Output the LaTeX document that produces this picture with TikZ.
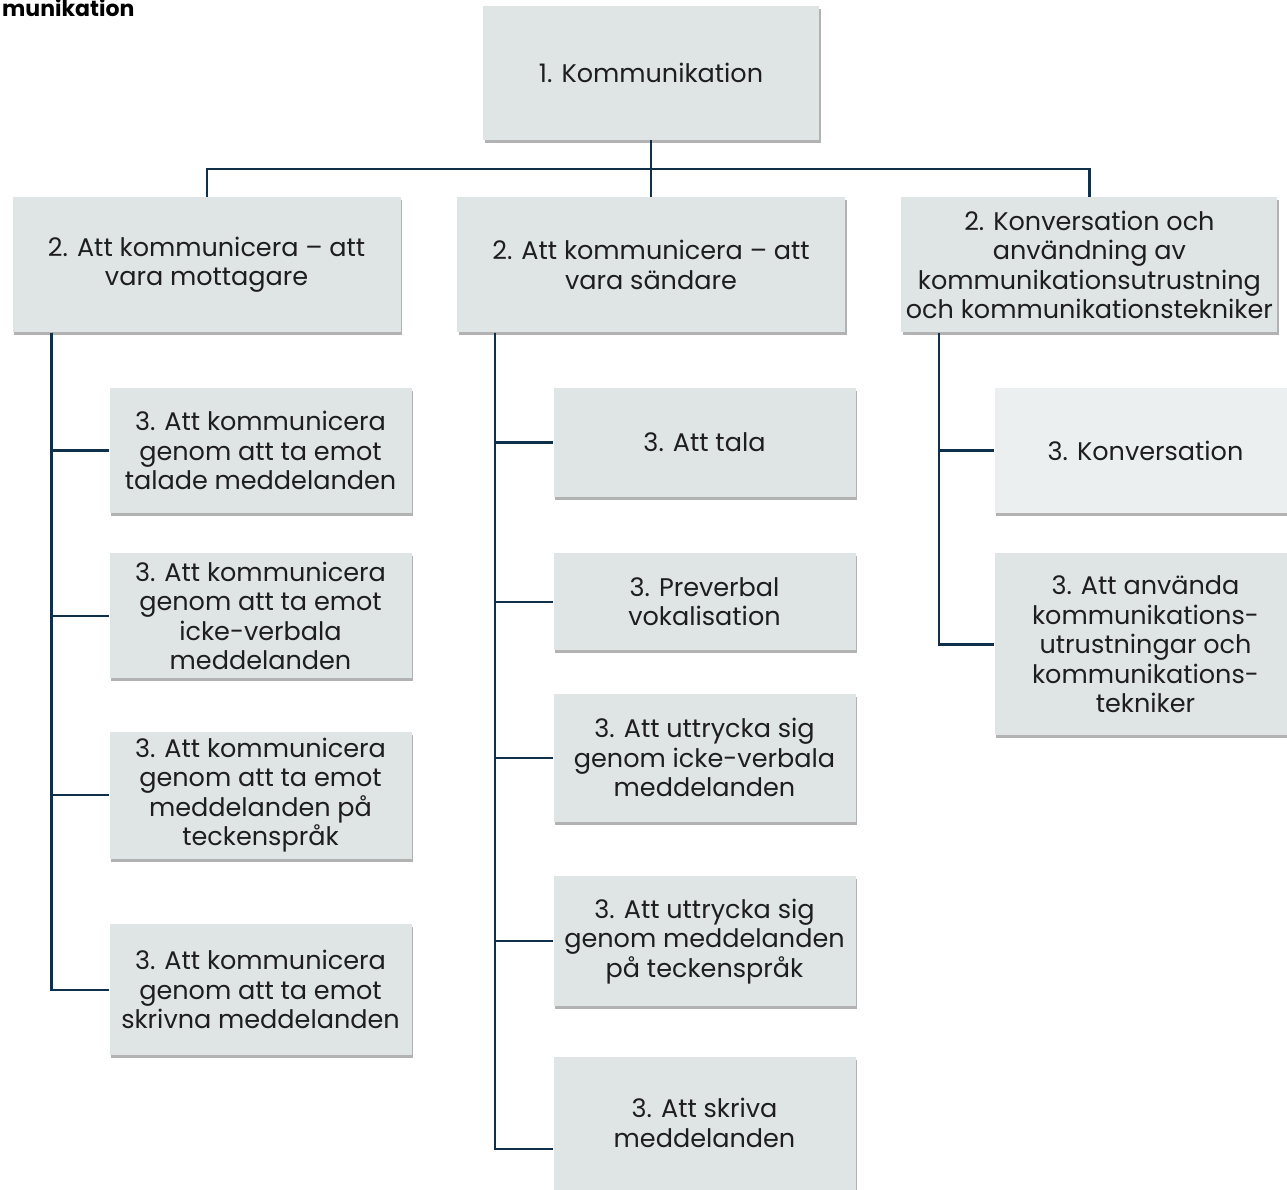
\documentclass[tikz,border=0pt]{standalone}
\usepackage{fontspec}
\setmainfont{Poppins}
\usepackage{xcolor}
\usepackage{tikz}
\usetikzlibrary{positioning,shadows}
\definecolor{boxfill}{HTML}{DFE4E4}
\definecolor{boxlight}{HTML}{EBEFEF}
\definecolor{linecol}{HTML}{10304A}
\definecolor{txtcol}{HTML}{1E1E1E}

\begin{document}
\begin{tikzpicture}[x=1pt,y=-1pt,font=\fontsize{25.5}{29.5}\selectfont]
\tikzset{box/.style={rectangle,fill=boxfill,text=txtcol,align=center,inner sep=0pt,
  drop shadow={shadow xshift=1.5pt,shadow yshift=-3pt,opacity=0.3,fill=black}},
lvltwo/.style={box,minimum width=388pt,minimum height=135pt},
lvlthree/.style={box,minimum width=302pt},
conn/.style={draw=linecol,line width=2.2pt}}
\useasboundingbox (0,0) rectangle (1287,1190);

\node[anchor=base west,inner sep=0pt,font=\fontsize{22}{25}\selectfont\bfseries] (title) at (2,17) {munikation};

\node[box,minimum width=336pt,minimum height=134pt] (top) at (651,73) {1. Kommunikation};

% second level
\node[lvltwo,below=57pt of top] (sender) {2. Att kommunicera -- att\\vara s\"andare};
\node[lvltwo,left=56pt of sender] (receiver) {2. Att kommunicera -- att\\vara mottagare};
\node[lvltwo,right=56pt of sender,minimum width=376pt] (conv) {2. Konversation och\\anv\"andning av\\kommunikationsutrustning\\och kommunikationstekniker};

\draw[conn] (top.south) -- ++(0,29) coordinate (bus);
\draw[conn] (receiver.north) |- (bus) -| (conv.north);
\draw[conn] (bus) -- (sender.north);

% receiver column
\node[lvlthree,minimum height=125pt] (recA) at (260.5,450.5) {3. Att kommunicera\\genom att ta emot\\talade meddelanden};
\node[lvlthree,minimum height=125pt,below=40pt of recA] (recB) {3. Att kommunicera\\genom att ta emot\\icke-verbala\\meddelanden};
\node[lvlthree,minimum height=127pt,below=53pt of recB] (recC) {3. Att kommunicera\\genom att ta emot\\meddelanden p\aa\\teckenspr\aa k};
\node[lvlthree,minimum height=131pt,below=65pt of recC] (recD) {3. Att kommunicera\\genom att ta emot\\skrivna meddelanden};

\coordinate (spineA) at ([xshift=39pt]receiver.south west);
\draw[conn] (spineA) |- (recD.west);
\draw[conn] (spineA) |- (recA.west);
\draw[conn] (spineA) |- (recB.west);
\draw[conn] (spineA) |- (recC.west);

% sender column
\node[lvlthree,minimum height=109pt] (sndA) at (704.5,442.5) {3. Att tala};
\node[lvlthree,minimum height=97pt,below=56pt of sndA] (sndB) {3. Preverbal\\vokalisation};
\node[lvlthree,minimum height=128pt,below=43pt of sndB] (sndC) {3. Att uttrycka sig\\genom icke-verbala\\meddelanden};
\node[lvlthree,minimum height=130pt,below=54pt of sndC] (sndD) {3. Att uttrycka sig\\genom meddelanden\\p\aa{} teckenspr\aa k};
\node[lvlthree,minimum height=133pt,below=50pt of sndD] (sndE) {3. Att skriva\\meddelanden};

\coordinate (spineB) at ([xshift=38pt]sender.south west);
\draw[conn] (spineB) |- ([yshift=-25.5pt]sndE.west);
\draw[conn] (spineB) |- (sndA.west);
\draw[conn] (spineB) |- (sndB.west);
\draw[conn] (spineB) |- (sndC.west);
\draw[conn] (spineB) |- (sndD.west);

% conversation column
\node[lvlthree,fill=boxlight,minimum height=125pt] (cvA) at (1145.5,450.5) {3. Konversation};
\node[lvlthree,minimum height=182pt,below=40pt of cvA] (cvB) {3. Att anv\"anda\\kommunikations-\\utrustningar och\\kommunikations-\\tekniker};

\coordinate (spineC) at ([xshift=38pt]conv.south west);
\draw[conn] (spineC) |- (cvB.west);
\draw[conn] (spineC) |- (cvA.west);

\end{tikzpicture}
\end{document}
